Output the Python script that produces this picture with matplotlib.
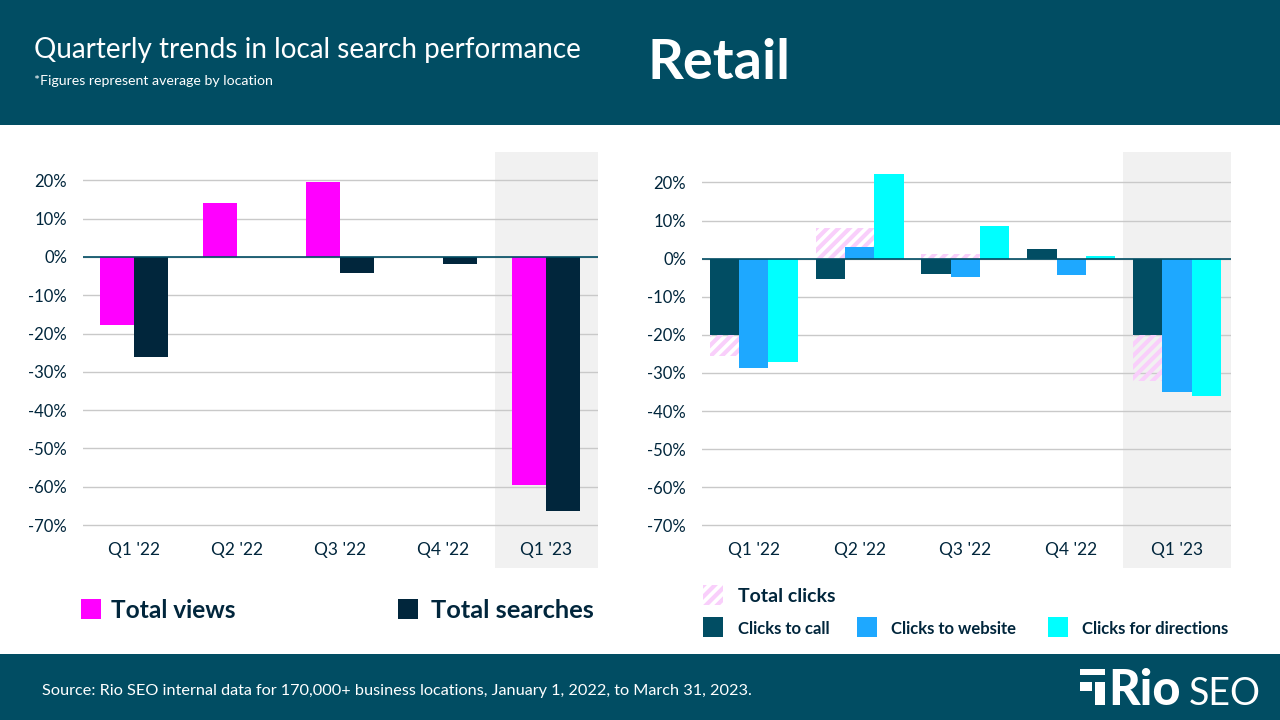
import matplotlib
matplotlib.use('Agg')
import numpy as np
import matplotlib.pyplot as plt
from matplotlib.patches import Rectangle

quarters = ["Q1 '22", "Q2 '22", "Q3 '22", "Q4 '22", "Q1 '23"]
total_views = [-17.7, 14, 19.6, 0, -59.5]
total_searches = [-26, 0, -4.2, -1.9, -66.3]
total_clicks = [-25.5, 8, 1.2, 0, -32]
clicks_call = [-20, -5.3, -4, 2.5, -20]
clicks_website = [-28.8, 3, -4.8, -4.2, -35]
clicks_directions = [-27, 22.2, 8.6, 0.8, -36]
y_ticks = [20, 10, 0, -10, -20, -30, -40, -50, -60, -70]

TEAL = '#014D63'
NAVY = '#01263C'
PINK = '#FF00FF'
BLUE = '#1EA8FF'
CYAN = '#00FFFF'
HATCH = '#F9CFFB'
W, H = 1280, 720

plt.rcParams['font.family'] = ['Lato', 'DejaVu Sans']
plt.rcParams['hatch.linewidth'] = 3

fig = plt.figure(figsize=(12.8, 7.2), dpi=100)


def px_axes(x0, y0, x1, y1):
    # pixel box measured from the top left of the image
    return fig.add_axes([x0 / W, 1 - y1 / H, (x1 - x0) / W, (y1 - y0) / H])


def style_axes(ax, xlim, band_start, top_val, bottom_val):
    ax.set_xlim(*xlim)
    ax.set_ylim(bottom_val, top_val)
    ax.axvspan(band_start, xlim[1], color='#F1F1F1', lw=0, zorder=0)
    ax.set_yticks(y_ticks)
    ax.set_yticklabels([str(t) + '%' for t in y_ticks])
    ax.set_xticks(range(5))
    ax.set_xticklabels(quarters)
    ax.tick_params(axis='y', length=0, pad=11.5, labelsize=12, labelcolor=NAVY)
    ax.tick_params(axis='x', length=0, pad=-18.6, labelsize=12.5, labelcolor=NAVY)
    ax.grid(axis='y', color='#C9C9C9', lw=1)
    ax.set_axisbelow(True)
    for s in ax.spines.values():
        s.set_visible(False)
    ax.axhline(0, color=TEAL, lw=1.2, zorder=5)


def swatch(x, y, color=None, hatch=False):
    # y is the centre of the swatch in pixels from the top
    if hatch:
        r = Rectangle((x / W, 1 - (y + 10) / H), 20 / W, 20 / H, transform=fig.transFigure,
                      facecolor='white', edgecolor=HATCH, hatch='///', lw=0)
    else:
        r = Rectangle((x / W, 1 - (y + 10) / H), 20 / W, 20 / H, transform=fig.transFigure,
                      facecolor=color, lw=0)
    fig.add_artist(r)


def label(x, y, s, size):
    fig.text(x / W, 1 - (y + 2) / H, s, color=NAVY, fontsize=size, va='center', fontweight='bold')


# header and footer bands
fig.add_artist(Rectangle((0, 1 - 125 / H), 1, 125 / H, transform=fig.transFigure, color=TEAL, lw=0))
fig.add_artist(Rectangle((0, 0), 1, 66 / H, transform=fig.transFigure, color=TEAL, lw=0))

fig.text(34 / W, 1 - 50 / H, 'Quarterly trends in local search performance', color='white',
         fontsize=20.1, va='center')
fig.text(34 / W, 1 - 81 / H, '*Figures represent average by location', color='white',
         fontsize=10.2, va='center')
fig.text(648 / W, 1 - 63 / H, 'Retail', color='white', fontsize=40.2, va='center', fontweight='bold')
fig.text(42 / W, 1 - 691 / H, 'Source: Rio SEO internal data for 170,000+ business locations, January 1, 2022, to March 31, 2023.',
         color='white', fontsize=11.7, va='center')

# left chart
ax1 = px_axes(83, 152, 598, 568)
style_axes(ax1, (-0.497, 4.503), 3.503, 27.4, -81.2)
x = np.arange(5)
bw = 0.333
ax1.bar(x - bw / 2, total_views, bw, color=PINK, zorder=3)
ax1.bar(x + bw / 2, total_searches, bw, color=NAVY, zorder=3)

# right chart
ax2 = px_axes(702, 152, 1231, 568)
style_axes(ax2, (-0.49, 4.51), 3.49, 28.0, -81.2)
bw2 = 0.277
ax2.bar(x - bw2 / 2, total_clicks, bw2 * 2, facecolor='none', edgecolor=HATCH, hatch='///', lw=0, zorder=2)
ax2.bar(x - bw2, clicks_call, bw2, color=TEAL, zorder=3)
ax2.bar(x, clicks_website, bw2, color=BLUE, zorder=3)
ax2.bar(x + bw2, clicks_directions, bw2, color=CYAN, zorder=3)

# legends
swatch(81, 609, color=PINK)
label(111, 609, 'Total views', 17.6)
swatch(398, 609, color=NAVY)
label(431, 609, 'Total searches', 18.3)
swatch(703, 595, hatch=True)
label(738, 595, 'Total clicks', 14)
swatch(703, 627, color=TEAL)
label(738, 627, 'Clicks to call', 12)
swatch(857, 627, color=BLUE)
label(891, 627, 'Clicks to website', 12)
swatch(1048, 627, color=CYAN)
label(1082, 627, 'Clicks for directions', 12)

# logo
for bx, by, bw_, bh in [(1080, 669, 25, 6), (1080, 682, 12, 9), (1095, 682, 10, 23)]:
    fig.add_artist(Rectangle((bx / W, 1 - (by + bh) / H), bw_ / W, bh / H, transform=fig.transFigure, color='white', lw=0))
fig.text(1108 / W, 1 - 705 / H, 'Rio', color='white', fontsize=35, fontweight='black', va='baseline')
fig.text(1189 / W, 1 - 705 / H, 'SEO', color='white', fontsize=27, va='baseline')

fig.savefig('out.png', dpi=100)
